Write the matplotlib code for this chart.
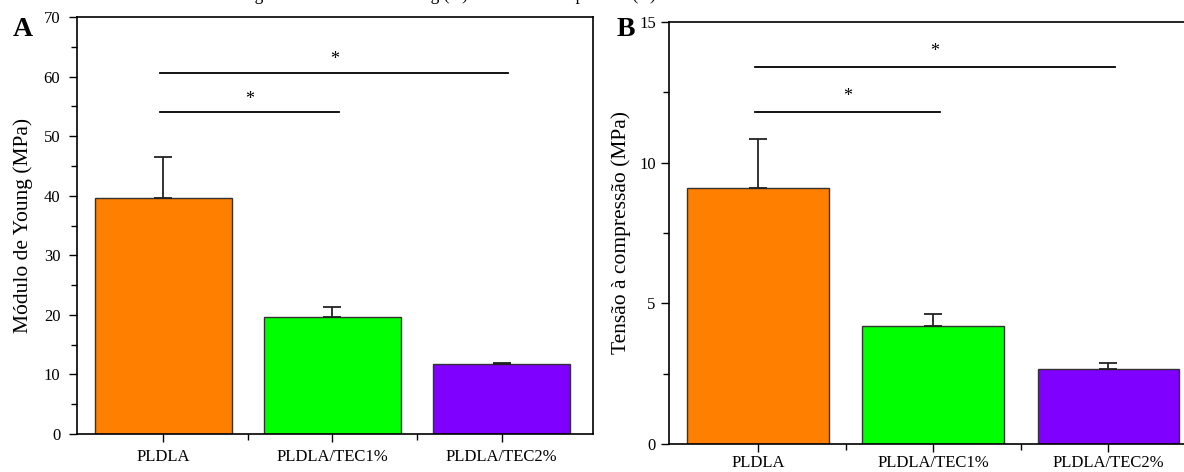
import matplotlib.pyplot as plt
from matplotlib.ticker import MultipleLocator, FixedLocator

plt.rcParams['font.family'] = ['Liberation Serif', 'DejaVu Serif']

# dados
amostras = ["PLDLA", "PLDLA/TEC1%", "PLDLA/TEC2%"]
cores = ["#FF8000", "#00FF00", "#8000FF"]

modulo = [39.7, 19.6, 11.7]        # Módulo de Young (MPa)
modulo_err = [6.8, 1.7, 0.3]
tensao = [9.1, 4.2, 2.67]          # Tensão à compressão (MPa)
tensao_err = [1.75, 0.43, 0.2]

# pares significativos: (i, j, altura da linha)
sig_A = [(0, 1, 54.0), (0, 2, 60.6)]
sig_B = [(0, 1, 11.8), (0, 2, 13.4)]

W, H = 1184, 472
fig = plt.figure(figsize=(W / 100, H / 100), dpi=100)

axA = fig.add_axes([77 / W, (H - 434) / H, (593 - 77) / W, (434 - 17) / H])
axB = fig.add_axes([669 / W, (H - 444) / H, 534 / W, (444 - 22) / H])


def painel(ax, vals, errs, sig, ymax, major, minor, ylabel, star_off, xpad, ypad, lpad):
    x = range(len(amostras))
    ax.bar(x, vals, width=0.81, color=cores, edgecolor="#333333", linewidth=1.0, zorder=2)
    ax.errorbar(x, vals, yerr=[[0] * len(errs), errs], fmt="none", ecolor="#222222",
                elinewidth=1.3, capsize=6.3, capthick=1.3, zorder=3)
    for i, j, h in sig:
        ax.plot([i - 0.02, j + 0.04], [h, h], color="black", lw=1.3)
        ax.text((i + j) / 2 + 0.01, h + star_off, "*", ha="center", va="center", fontsize=13)
    ax.set_xlim(-0.51, 2.54)
    ax.set_ylim(0, ymax)
    ax.yaxis.set_major_locator(MultipleLocator(major))
    ax.yaxis.set_minor_locator(MultipleLocator(minor))
    ax.set_xticks(list(x))
    ax.set_xticklabels(amostras)
    ax.xaxis.set_minor_locator(FixedLocator([0.5, 1.5]))
    ax.tick_params(axis="both", which="major", direction="out", length=6, width=1.0,
                   labelsize=12, colors="black", top=False, right=False)
    ax.tick_params(axis="both", which="minor", direction="out", length=4, width=1.0,
                   top=False, right=False)
    ax.tick_params(axis="y", pad=ypad)
    ax.tick_params(axis="x", pad=xpad)
    for s in ax.spines.values():
        s.set_linewidth(1.2)
    ax.set_ylabel(ylabel, fontsize=15.5, labelpad=lpad)


painel(axA, modulo, modulo_err, sig_A, 70, 10, 5, "Módulo de Young (MPa)", 2.2, 5, 6, 8)
painel(axB, tensao, tensao_err, sig_B, 15, 5, 2.5, "Tensão à compressão (MPa)", 0.55, 2, 3.5, 6)

fig.text(13 / W, 1 - 30 / H, "A", fontsize=20, fontweight="bold", va="center")
fig.text(617 / W, 1 - 30 / H, "B", fontsize=20, fontweight="bold", va="center")

# legenda cortada no topo da imagem
fig.text(656 / W, 1.0, "Figura 5 - Módulo de Young (A) e tensão à compressão (B)",
         ha="right", va="baseline", fontsize=12.6)

fig.savefig("out.png", dpi=100)
